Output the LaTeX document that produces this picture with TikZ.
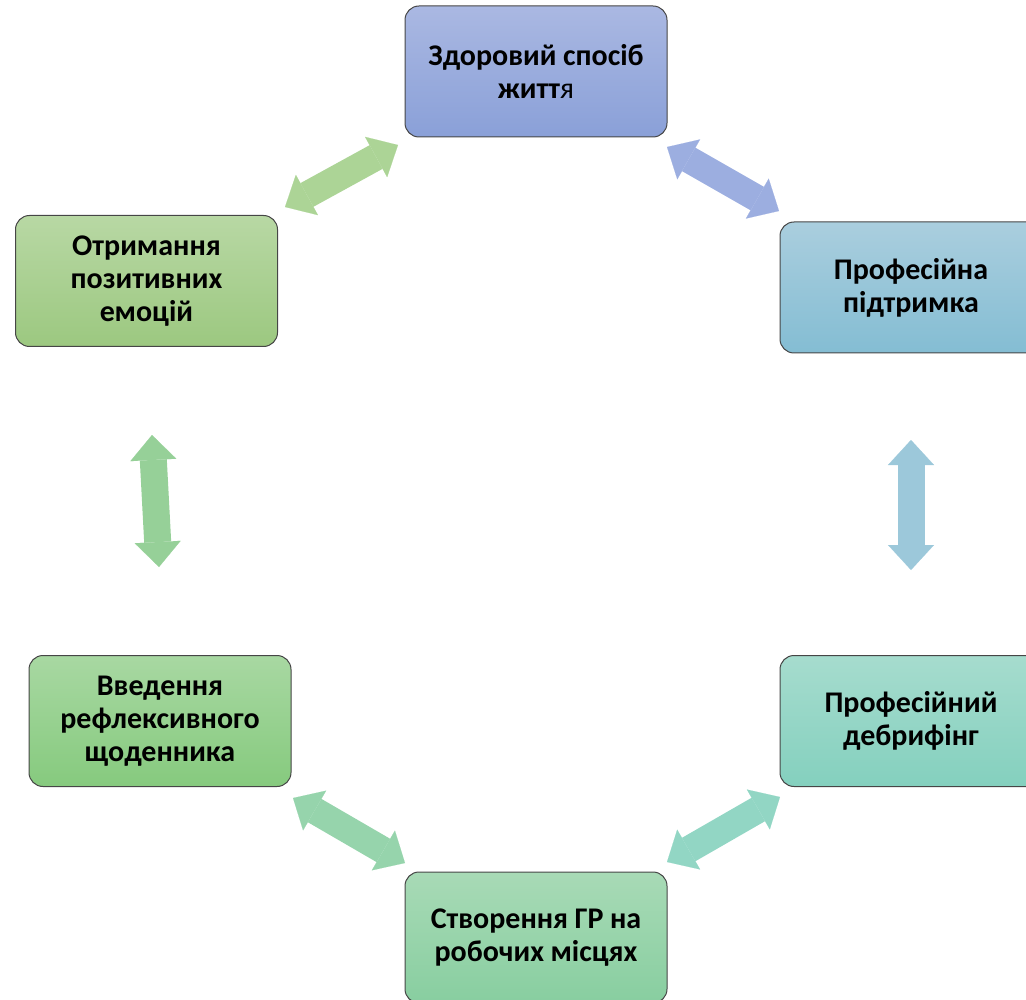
\documentclass[tikz,border=0pt]{standalone}
\usepackage{fontspec}
\setmainfont{Carlito}
\usepackage{tikz}
\usetikzlibrary{arrows.meta}
\pgfdeclarelayer{background}
\pgfsetlayers{background,main}

\definecolor{boxline}{RGB}{70,70,70}
\tikzset{
  box/.style={draw=boxline, line width=1pt, rounded corners=14pt,
    minimum width=262pt, minimum height=131pt, text width=240pt, align=center,
    font=\fontsize{30}{33}\selectfont\bfseries, inner sep=0pt,
    execute at begin node={\spaceskip=6.5pt\relax}},
  blk/.tip={Triangle[length=25pt,width=46pt,line width=0.1pt]},
  twoway/.style={line width=27pt, blk-blk}
}

\begin{document}
\begin{tikzpicture}[x=1pt,y=-1pt]
\useasboundingbox (0,0) rectangle (1026,1000);
% boxes
\node[box, top color={rgb,255:red,170;green,184;blue,226}, bottom color={rgb,255:red,138;green,160;blue,216}] (zdorov) at (536,71.5) {Здоровий спосіб\\житт\mdseries я};
\node[box, top color={rgb,255:red,170;green,206;blue,222}, bottom color={rgb,255:red,132;green,189;blue,211}] (pidtr) at (911,287.5) {Професійна\\підтримка};
\node[box, top color={rgb,255:red,166;green,220;blue,206}, bottom color={rgb,255:red,132;green,208;blue,190}] (debrif) at (911,721) {Професійний\\дебрифінг};
\node[box, top color={rgb,255:red,168;green,218;blue,182}, bottom color={rgb,255:red,136;green,206;blue,160}] (stvor) at (536,937.5) {Створення ГР на\\робочих місцях};
\node[box, top color={rgb,255:red,168;green,216;blue,162}, bottom color={rgb,255:red,134;green,202;blue,126}] (shchod) at (160,721) {Введення\\рефлексивного\\щоденника};
\node[box, top color={rgb,255:red,184;green,216;blue,164}, bottom color={rgb,255:red,156;green,200;blue,128}] (emoc) at (146.5,281) {Отримання\\позитивних\\емоцій};
% arrow ends
\coordinate (a1) at (285,207); \coordinate (b1) at (398,145);
\coordinate (a2) at (667,147); \coordinate (b2) at (779,211);
\coordinate (a3) at (911,440); \coordinate (b3) at (911,570);
\coordinate (a4) at (152,435); \coordinate (b4) at (159,567);
\coordinate (a5) at (293,798); \coordinate (b5) at (405,863);
\coordinate (a6) at (667,862); \coordinate (b6) at (780,797);
\begin{pgfonlayer}{background}
\draw[twoway, color={rgb,255:red,172;green,212;blue,150}] (a1) -- (b1);
\draw[twoway, color={rgb,255:red,156;green,174;blue,224}] (a2) -- (b2);
\draw[twoway, color={rgb,255:red,156;green,200;blue,218}] (a3) -- (b3);
\draw[twoway, color={rgb,255:red,150;green,208;blue,152}] (a4) -- (b4);
\draw[twoway, color={rgb,255:red,150;green,212;blue,172}] (a5) -- (b5);
\draw[twoway, color={rgb,255:red,146;green,214;blue,196}] (a6) -- (b6);
\end{pgfonlayer}
\end{tikzpicture}
\end{document}
